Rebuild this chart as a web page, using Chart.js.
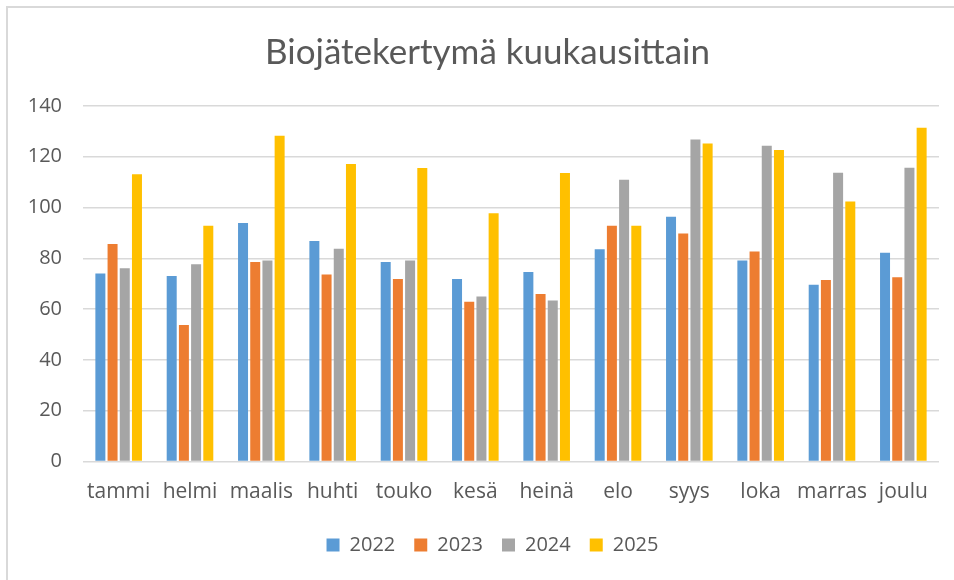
<!DOCTYPE html>
<html>
<head>
<meta charset="utf-8">
<script src="https://cdn.jsdelivr.net/npm/chart.js@4"></script>
<style>
  html, body { margin: 0; padding: 0; background: #fff; }
  #wrap { position: relative; width: 954px; height: 580px; overflow: hidden; }
  #frame { position: absolute; left: 6px; top: 6px; width: 1200px; height: 1200px;
           border-left: 2px solid #d9d9d9; border-top: 2px solid #d9d9d9; pointer-events: none; }
  canvas { position: absolute; left: 0; top: 0; }
</style>
</head>
<body>
<div id="wrap">
  <canvas id="c" width="954" height="580"></canvas>
  <div id="frame"></div>
</div>
<script>
const chartTitle = "Biojätekertymä kuukausittain";
const months = ["tammi", "helmi", "maalis", "huhti", "touko", "kesä", "heinä", "elo", "syys", "loka", "marras", "joulu"];
const seriesNames = ["2022", "2023", "2024", "2025"];
const values2022 = [74.0, 73.1, 93.9, 86.8, 78.6, 71.9, 74.6, 83.6, 96.4, 79.2, 69.6, 82.2];
const values2023 = [85.7, 53.8, 78.6, 73.6, 71.9, 62.9, 66.0, 92.8, 89.8, 82.7, 71.5, 72.6];
const values2024 = [76.1, 77.7, 79.2, 83.8, 79.2, 65.0, 63.4, 111.0, 126.8, 124.3, 113.7, 115.7];
const values2025 = [113.1, 92.8, 128.3, 117.2, 115.6, 97.8, 113.6, 92.8, 125.2, 122.7, 102.4, 131.4];
const seriesColors = ["#5B9BD5", "#ED7D31", "#A5A5A5", "#FFC000"];
const yMin = 0, yMax = 140, yStep = 20;

const allValues = [values2022, values2023, values2024, values2025];
const textColor = "#595959";
const fontFamily = "'Open Sans', 'Noto Sans', sans-serif";

// horizontal nudges for the title and legend boxes (Excel centres them on the frame)
const boxShift = {
  id: "boxShift",
  afterLayout(chart) {
    if (chart.titleBlock) { chart.titleBlock.left += 5; chart.titleBlock.right += 5; }
    if (chart.legend) { chart.legend.left += 10; chart.legend.right += 10; }
  }
};

new Chart(document.getElementById("c"), {
  type: "bar",
  data: {
    labels: months,
    datasets: seriesNames.map((name, i) => ({
      label: name,
      data: allValues[i],
      backgroundColor: seriesColors[i],
      borderWidth: 0,
      barPercentage: 0.82,
      categoryPercentage: 0.684
    }))
  },
  plugins: [boxShift],
  options: {
    responsive: false,
    animation: false,
    devicePixelRatio: 1,
    layout: { padding: { left: 26, right: 15, top: 0, bottom: 15 } },
    plugins: {
      title: {
        display: true,
        text: chartTitle,
        color: textColor,
        font: { family: "Lato, 'Open Sans', sans-serif", size: 35, weight: "normal", lineHeight: 1.2 },
        padding: { top: 32, bottom: 32 }
      },
      legend: {
        position: "bottom",
        labels: {
          color: textColor,
          font: { family: fontFamily, size: 20 },
          boxWidth: 13,
          boxHeight: 13,
          padding: 19
        }
      },
      tooltip: { enabled: false }
    },
    scales: {
      x: {
        grid: { display: false, drawTicks: false },
        border: { display: false },
        ticks: { color: textColor, font: { family: fontFamily, size: 21 }, padding: 18, maxRotation: 0, autoSkip: false },
        afterFit: (s) => { s.height = 54.5; }
      },
      y: {
        min: yMin,
        max: yMax,
        grid: { color: "#d9d9d9", lineWidth: 1.6, drawTicks: false },
        border: { display: false },
        ticks: { stepSize: yStep, color: textColor, font: { family: fontFamily, size: 20 }, padding: 21 },
        afterFit: (s) => { s.width = 57; }
      }
    }
  }
});
</script>
</body>
</html>
